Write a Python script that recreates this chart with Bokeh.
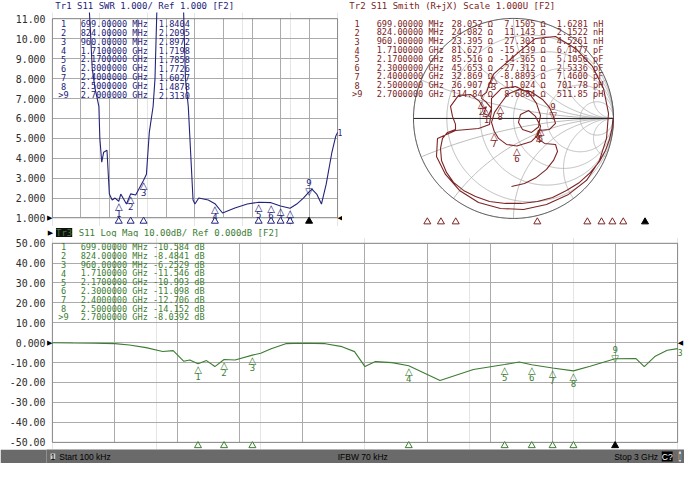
import numpy as np
from bokeh.plotting import figure
from bokeh.models import Range1d, FixedTicker, Label, Grid, BoxAnnotation
from bokeh.layouts import column, row
from bokeh.embed import file_html
from bokeh.resources import INLINE
from bokeh.core.properties import value

# ------------------------------------------------------------------ data
start_hz = 100e3
stop_hz = 3e9

swr_freq_ghz = [0.0001, 0.20, 0.36, 0.40, 0.42, 0.45, 0.49, 0.50, 0.52, 0.54, 0.575, 0.60, 0.63,
                0.66, 0.699, 0.72, 0.78, 0.824, 0.877, 0.96, 0.99, 1.02, 1.06, 1.08, 1.10, 1.20,
                1.30, 1.38, 1.40, 1.43, 1.48, 1.50, 1.54, 1.64, 1.71, 1.79, 1.92, 2.05, 2.17,
                2.30, 2.40, 2.50, 2.57, 2.64, 2.70, 2.73, 2.78, 2.83, 2.88, 2.94, 2.98, 3.00]
swr_values = [60.0, 40.0, 14.0, 10.5, 8.5, 7.5, 6.6, 5.0, 3.8, 4.3, 4.4, 2.2, 1.9,
              2.0, 1.84, 2.2, 1.7, 2.21, 2.15, 2.90, 3.2, 5.3, 6.6, 8.0, 11.5, 40.0,
              30.0, 11.5, 8.0, 6.6, 1.9, 1.7, 2.0, 1.9, 1.72, 1.25, 1.5, 1.7, 1.79,
              1.77, 1.60, 1.49, 1.7, 2.0, 2.31, 2.45, 2.2, 1.7, 2.7, 4.3, 5.1, 5.3]

logmag_freq_ghz = [0.0001, 0.10, 0.20, 0.30, 0.37, 0.45, 0.53, 0.58, 0.63, 0.66, 0.699, 0.74,
                   0.78, 0.824, 0.877, 0.96, 1.00, 1.05, 1.12, 1.20, 1.31, 1.39, 1.45, 1.50,
                   1.55, 1.63, 1.71, 1.86, 2.02, 2.17, 2.24, 2.30, 2.40, 2.50, 2.58, 2.70,
                   2.80, 2.84, 2.89, 2.95, 3.00]
logmag_db = [0.0, -0.2, -0.3, -0.5, -1.2, -2.5, -4.4, -4.0, -9.3, -8.7, -10.58, -9.0,
             -12.0, -8.48, -8.7, -6.25, -5.3, -3.0, -0.5, -0.3, -0.5, -2.0, -4.5, -12.0,
             -9.5, -10.0, -11.55, -19.0, -13.5, -10.99, -9.7, -11.1, -12.7, -14.15, -11.8, -8.04,
             -8.0, -12.0, -7.0, -3.8, -3.0]

smith_re = [0.995, 0.985, 0.96, 0.92, 0.86, 0.77, 0.66, 0.53, 0.39, 0.24, 0.08, -0.08, -0.24,
            -0.38, -0.50, -0.60, -0.67, -0.72, -0.73, -0.71, -0.66, -0.58, -0.58, -0.61, -0.63,
            -0.55, -0.43, -0.34, -0.30, -0.271, -0.30, -0.25, -0.22, -0.28, -0.32, -0.31, -0.27,
            -0.24, -0.197, -0.10, 0.05,
            0.22, 0.42, 0.62, 0.79, 0.90, 0.95, 0.93, 0.86, 0.73, 0.55, 0.33, 0.10, -0.13, -0.35,
            -0.54, -0.68, -0.77, -0.76, -0.58,
            -0.35, -0.24, -0.22, -0.22, -0.12, 0.02, 0.15, 0.23, 0.27, 0.25,
            0.18, 0.09, 0.05, 0.07, 0.15, 0.22, 0.27, 0.25, 0.18, 0.033, -0.07, -0.15, -0.193,
            -0.22, -0.19, -0.132, -0.06, 0.05, 0.17, 0.29, 0.36, 0.395,
            0.42, 0.36, 0.25, 0.23, 0.31, 0.42, 0.44, 0.40, 0.33, 0.23, 0.11, -0.02]
smith_im = [0.00, -0.10, -0.21, -0.32, -0.43, -0.54, -0.64, -0.72, -0.79, -0.83, -0.85, -0.85, -0.83,
            -0.78, -0.72, -0.64, -0.54, -0.42, -0.30, -0.20, -0.14, -0.11, -0.06, 0.02, 0.12,
            0.23, 0.24, 0.17, 0.10, 0.117, 0.05, 0.03, 0.10, 0.17, 0.20, 0.23, 0.26,
            0.35, 0.445, 0.53, 0.66,
            0.80, 0.82, 0.70, 0.52, 0.30, 0.05, -0.20, -0.42, -0.62, -0.76, -0.86, -0.91, -0.90, -0.84,
            -0.72, -0.56, -0.38, -0.20, -0.12,
            -0.10, -0.06, 0.08, 0.20, 0.30, 0.32, 0.26, 0.15, 0.03, -0.086,
            -0.14, -0.11, -0.04, 0.04, 0.08, 0.02, -0.077, -0.16, -0.23, -0.276, -0.26, -0.20, -0.128,
            -0.04, 0.06, 0.144, 0.24, 0.29, 0.27, 0.19, 0.11, 0.032,
            -0.05, -0.11, -0.12, -0.19, -0.25, -0.26, -0.33, -0.42, -0.51, -0.59, -0.65, -0.68]

marker_ids = ["1", "2", "3", "4", "5", "6", "7", "8", ">9"]
marker_nums = ["1", "2", "3", "4", "5", "6", "7", "8", "9"]
marker_freq_ghz = [0.699, 0.824, 0.960, 1.710, 2.170, 2.300, 2.400, 2.500, 2.700]
marker_freq_text = ["699.00000 MHz", "824.00000 MHz", "960.00000 MHz", "1.7100000 GHz",
                    "2.1700000 GHz", "2.3000000 GHz", "2.4000000 GHz", "2.5000000 GHz",
                    "2.7000000 GHz"]
marker_swr = [1.8404, 2.2095, 2.8972, 1.7198, 1.7858, 1.7726, 1.6027, 1.4878, 2.3130]
marker_swr_text = ["1.8404", "2.2095", "2.8972", "1.7198", "1.7858", "1.7726", "1.6027",
                   "1.4878", "2.3130"]
marker_db = [-10.584, -8.4841, -6.2529, -11.546, -10.993, -11.098, -12.706, -14.152, -8.0392]
marker_db_text = ["-10.584 dB", "-8.4841 dB", "-6.2529 dB", "-11.546 dB", "-10.993 dB",
                  "-11.098 dB", "-12.706 dB", "-14.152 dB", "-8.0392 dB"]
marker_r = [28.052, 24.082, 23.395, 81.627, 85.516, 45.653, 32.869, 36.907, 114.84]
marker_x = [7.1505, 11.143, 27.301, -15.139, -14.365, -27.312, -8.8893, 11.024, 8.6884]
marker_r_text = ["28.052 Ω", "24.082 Ω", "23.395 Ω", "81.627 Ω", "85.516 Ω", "45.653 Ω",
                 "32.869 Ω", "36.907 Ω", "114.84 Ω"]
marker_x_text = ["7.1505 Ω", "11.143 Ω", "27.301 Ω", "-15.139 Ω", "-14.365 Ω", "-27.312 Ω",
                 "-8.8893 Ω", "11.024 Ω", "8.6884 Ω"]
marker_lc_text = ["1.6281 nH", "2.1522 nH", "4.5261 nH", "6.1477 pF", "5.1056 pF", "2.5336 pF",
                  "7.4600 pF", "701.78 pH", "511.85 pH"]

swr_ticks = [1, 2, 3, 4, 5, 6, 7, 8, 9, 10, 11]
swr_tick_labels = ["1.000", "2.000", "3.000", "4.000", "5.000", "6.000", "7.000", "8.000",
                   "9.000", "10.00", "11.00"]
db_ticks = [-50, -40, -30, -20, -10, 0, 10, 20, 30, 40, 50]
db_tick_labels = ["-50.00", "-40.00", "-30.00", "-20.00", "-10.00", "0.000", "10.00", "20.00",
                  "30.00", "40.00", "50.00"]
freq_divisions = 10
smith_r_values = [0.2, 0.5, 1.0, 2.0, 5.0]
smith_x_values = [0.2, 0.5, 1.0, 2.0, 5.0]

# ------------------------------------------------------------------ style / geometry
SX = 684 / 700
SY = 463 / 479
SWR_C = "#23237a"
SMITH_C = "#7d2424"
LOG_C = "#3c7d32"
GRID_C = "#ababab"
FRAME_C = "#3a3a3a"
TICK_C = "#2c2c2c"
MONO = "DejaVu Sans Mono"
SANS = "DejaVu Sans"
TBL = 8.6

W_TOP_L = int(round(350 * SX))          # 342
W_TOP_R = 684 - W_TOP_L
H_HEAD_A = 12
TOP_BOTTOM = 226
C_TOP = int(round(245 * SY))            # 237
C_BOTTOM = int(round(465 * SY))         # 449
AXIS_W = int(round(47 * SX))            # 46


def make_fig(w, h, xr, yr, bl=0, br=0, bt=0, bb=0, **kw):
    p = figure(width=w, height=h, x_range=xr, y_range=yr, output_backend="svg",
               toolbar_location=None, min_border_left=bl, min_border_right=br,
               min_border_top=bt, min_border_bottom=bb, **kw)
    p.background_fill_color = "white"
    p.border_fill_color = "white"
    p.outline_line_color = None
    return p


def put(p, origin, text, rx, ry, color, size, font=MONO, align="left", baseline="middle", **kw):
    """Label placed at reference-pixel position (rx, ry); origin = page px of frame top-left."""
    ox, oy = origin
    p.add_layout(Label(x=p.x_range.start, y=p.y_range.end, x_offset=rx * SX - ox,
                       y_offset=-(ry * SY - oy), text=text, text_color=color,
                       text_font_size=f"{size}px", text_font=font, text_align=align,
                       text_baseline=baseline, **kw))


def cartesian_panel(w, top, bottom, box_ref, y_lo, y_hi):
    """Figure whose frame spans [AXIS_W, w] x [top, bottom] page px; data box at box_ref."""
    rl, rt, rr, rb = box_ref
    bx0, bx1, by0, by1 = rl * SX, rr * SX, rt * SY, rb * SY
    ppx = (bx1 - bx0) / (stop_hz - start_hz)
    ppu = (by1 - by0) / (y_hi - y_lo)
    xr = Range1d(start_hz - (bx0 - AXIS_W) / ppx, stop_hz + (w - bx1) / ppx)
    yr = Range1d(y_lo - (bottom - by1) / ppu, y_hi + (by0 - top) / ppu)
    p = make_fig(w, bottom - top, xr, yr, bl=AXIS_W, x_axis_location=None)
    return p, ppu


def style_panel(p, ticks, labels, y_lo, y_hi):
    ax = p.yaxis[0]
    ax.ticker = FixedTicker(ticks=ticks)
    ax.major_label_overrides = {t: l for t, l in zip(ticks, labels)}
    ax.axis_line_color = None
    ax.major_tick_line_color = None
    ax.minor_tick_line_color = None
    ax.major_tick_out = 0
    ax.major_tick_in = 0
    ax.major_label_standoff = 1
    ax.major_label_text_font = MONO
    ax.major_label_text_font_size = "9.9px"
    ax.major_label_text_color = TICK_C
    p.ygrid.visible = False
    fticks = [start_hz + k * (stop_hz - start_hz) / freq_divisions for k in range(freq_divisions + 1)]
    if "cross_bounds" in Grid.properties():
        p.add_layout(Grid(dimension=0, ticker=FixedTicker(ticks=fticks), grid_line_color=GRID_C,
                          cross_bounds=(y_lo, y_hi)))
        p.add_layout(Grid(dimension=1, ticker=FixedTicker(ticks=ticks), grid_line_color=GRID_C,
                          cross_bounds=(start_hz, stop_hz)))
    else:
        p.segment(x0=fticks, y0=[y_lo] * len(fticks), x1=fticks, y1=[y_hi] * len(fticks),
                  line_color=GRID_C, line_width=1)
        p.segment(x0=[start_hz] * len(ticks), y0=ticks, x1=[stop_hz] * len(ticks), y1=ticks,
                  line_color=GRID_C, line_width=1)
    p.add_layout(BoxAnnotation(left=start_hz, right=stop_hz, bottom=y_lo, top=y_hi,
                               fill_alpha=0, fill_color=None, line_color=FRAME_C, line_width=1,
                               level="underlay"))


def trace_markers(p, xs, ys, color, **kw):
    idx = list(range(8))
    p.text(x=[xs[i] for i in idx], y=[ys[i] for i in idx], text=["△"] * 8, text_align="center",
           text_baseline="top", text_font_size="10px", text_font=value(SANS), text_color=color,
           y_offset=0, **kw)
    p.text(x=[xs[i] for i in idx], y=[ys[i] for i in idx], text=[marker_nums[i] for i in idx],
           text_align="center", text_baseline="top", text_font_size="9px",
           text_font=value(MONO), text_color=color, y_offset=9, **kw)
    p.text(x=[xs[8]], y=[ys[8]], text=["▽"], text_align="center", text_baseline="alphabetic",
           text_font_size="10px", text_font=value(SANS), text_color=color, y_offset=0, **kw)
    p.text(x=[xs[8]], y=[ys[8]], text=[marker_nums[8]], text_align="center",
           text_baseline="alphabetic", text_font_size="9px", text_font=value(MONO),
           text_color=color, y_offset=-9, **kw)


def strip_markers(p, color, y, x_range_name="default"):
    xs = [f * 1e9 for f in marker_freq_ghz]
    p.scatter(xs[:8], [y] * 8, marker="triangle", size=7, fill_color="white", line_color=color,
              line_width=1, x_range_name=x_range_name)
    p.scatter(xs[8:], [y], marker="triangle", size=7, fill_color="#000000", line_color="#000000",
              line_width=1, x_range_name=x_range_name)


# ------------------------------------------------------------------ header A
hA = make_fig(W_TOP_L, H_HEAD_A, Range1d(0, 1), Range1d(0, 1),
              x_axis_location=None, y_axis_location=None)
hA.xgrid.visible = False
hA.ygrid.visible = False
put(hA, (0, 0), "Tr1 S11 SWR 1.000/ Ref 1.000 [F2]", 9, 6, SWR_C, 9)

# ------------------------------------------------------------------ panel A : SWR
OA = (AXIS_W, H_HEAD_A)
pA, ppuA = cartesian_panel(W_TOP_L, H_HEAD_A, TOP_BOTTOM, (53, 19, 345, 225), 1, 11)
style_panel(pA, swr_ticks, swr_tick_labels, 1, 11)
pA.line([f * 1e9 for f in swr_freq_ghz], swr_values, line_color=SWR_C, line_width=1.1)
trace_markers(pA, [f * 1e9 for f in marker_freq_ghz], marker_swr, SWR_C)
strip_markers(pA, SWR_C, 1 - 3.2 / ppuA)
put(pA, OA, "▶", 53, 225, "#000000", 7, font=SANS, align="right")
put(pA, OA, "◀", 345, 225, "#000000", 7, font=SANS, align="left")
pA.add_layout(Label(x=stop_hz, y=swr_values[-1], text="1", text_color=SWR_C, text_font_size="8px",
                    text_font=MONO, text_align="left", text_baseline="middle", x_offset=0))
for i in range(9):
    ry = 24 + 9.25 * i
    put(pA, OA, marker_ids[i], 64.5, ry, SWR_C, TBL, align="center")
    put(pA, OA, marker_freq_text[i], 82, ry, SWR_C, TBL)
    put(pA, OA, marker_swr_text[i], 162, ry, SWR_C, TBL)

# ------------------------------------------------------------------ panel B : Smith
OB = (W_TOP_L, 0)
cx_px, cy_px, R = 525 * SX - W_TOP_L, 122 * SY, 100.0
pB = make_fig(W_TOP_R, TOP_BOTTOM, Range1d(-cx_px / R, (W_TOP_R - cx_px) / R),
              Range1d(-(TOP_BOTTOM - cy_px) / R, cy_px / R),
              x_axis_location=None, y_axis_location=None)
pB.xgrid.visible = False
pB.ygrid.visible = False
s0, s1 = 359 * SX - W_TOP_L, 693 * SX - W_TOP_L
ppx_b = (s1 - s0) / (stop_hz - start_hz)
pB.extra_x_ranges = {"freq": Range1d(start_hz - s0 / ppx_b, stop_hz + (W_TOP_R - s1) / ppx_b)}

t = np.linspace(0, 2 * np.pi, 721)
for r in smith_r_values:
    c, rad = r / (1 + r), 1 / (1 + r)
    pB.line(c + rad * np.cos(t), rad * np.sin(t), line_color=GRID_C, line_width=0.8)
for xv in smith_x_values:
    for s in (1, -1):
        cx, cy, rad = 1.0, s / xv, 1 / xv
        gx, gy = cx + rad * np.cos(t), cy + rad * np.sin(t)
        inside = gx ** 2 + gy ** 2 <= 1.0 + 1e-9
        pB.line(np.where(inside, gx, np.nan), np.where(inside, gy, np.nan),
                line_color=GRID_C, line_width=0.8)
pB.line(np.cos(t), np.sin(t), line_color="#404040", line_width=1)
pB.line([-1, 1], [0, 0], line_color="#202020", line_width=1)

pB.line(smith_re, smith_im, line_color=SMITH_C, line_width=1.1)
z = (np.array(marker_r) + 1j * np.array(marker_x)) / 50.0
gam = (z - 1) / (z + 1)
trace_markers(pB, list(gam.real), list(gam.imag), SMITH_C)
strip_markers(pB, SMITH_C, pB.y_range.start + (TOP_BOTTOM - 229 * SY) / R, x_range_name="freq")
put(pB, OB, "Tr2 S11 Smith (R+jX) Scale 1.000U [F2]", 357, 6, SMITH_C, 9)
for i in range(9):
    ry = 24 + 9.1 * i
    put(pB, OB, marker_ids[i], 365, ry, SMITH_C, TBL, align="center")
    put(pB, OB, marker_freq_text[i], 385, ry, SMITH_C, TBL)
    put(pB, OB, marker_r_text[i], 504, ry, SMITH_C, TBL, align="right")
    put(pB, OB, marker_x_text[i], 558, ry, SMITH_C, TBL, align="right")
    put(pB, OB, marker_lc_text[i], 617, ry, SMITH_C, TBL, align="right")

# ------------------------------------------------------------------ header C
hC = make_fig(684, C_TOP - TOP_BOTTOM, Range1d(0, 1), Range1d(0, 1),
              x_axis_location=None, y_axis_location=None)
hC.xgrid.visible = False
hC.ygrid.visible = False
OH = (0, TOP_BOTTOM)
HY = (TOP_BOTTOM + 5.5) / SY
put(hC, OH, "▶", 4, HY, "#000000", 7, font=SANS, align="center")
put(hC, OH, "Tr3", 18, HY, LOG_C, 9, align="center", background_fill_color="#111111")
put(hC, OH, "S11 Log Mag 10.00dB/ Ref 0.000dB [F2]", 33, HY, LOG_C, 9)

# ------------------------------------------------------------------ panel C : Log Mag
OC = (AXIS_W, C_TOP)
pC, ppuC = cartesian_panel(684, C_TOP, C_BOTTOM, (53, 251, 693, 457), -50, 50)
style_panel(pC, db_ticks, db_tick_labels, -50, 50)
pC.line([f * 1e9 for f in logmag_freq_ghz], logmag_db, line_color=LOG_C, line_width=1.1)
trace_markers(pC, [f * 1e9 for f in marker_freq_ghz], marker_db, LOG_C)
strip_markers(pC, LOG_C, -50 - 3.4 / ppuC)
put(pC, OC, "▶", 53, 354, "#000000", 7, font=SANS, align="right")
put(pC, OC, "◀", 693, 354, "#000000", 7, font=SANS, align="left")
pC.add_layout(Label(x=stop_hz, y=logmag_db[-1], text="3", text_color=LOG_C, text_font_size="8px",
                    text_font=MONO, text_align="left", text_baseline="top", x_offset=0))
for i in range(9):
    ry = 255 + 9.1 * i
    put(pC, OC, marker_ids[i], 64.5, ry, LOG_C, TBL, align="center")
    put(pC, OC, marker_freq_text[i], 82, ry, LOG_C, TBL)
    put(pC, OC, marker_db_text[i], 156, ry, LOG_C, TBL)

# ------------------------------------------------------------------ status bar
HS = 463 - C_BOTTOM
pS = make_fig(684, HS, Range1d(0, 700), Range1d(0, 1), x_axis_location=None, y_axis_location=None)
pS.xgrid.visible = False
pS.ygrid.visible = False
pS.background_fill_color = "#6a6a6a"
pS.border_fill_color = "#6a6a6a"
for txt, x0, al, kw in [("1", 7, "center", dict(background_fill_color="#cfcfcf")),
                        ("Start 100 kHz", 14, "left", {}),
                        ("IFBW 70 kHz", 347, "center", {}),
                        ("Stop 3 GHz", 671, "right", {}),
                        ("C?", 681, "center", dict(background_fill_color="#000000")),
                        ("I", 695, "center", dict(background_fill_color="#cfcfcf"))]:
    pS.add_layout(Label(x=x0, y=0.5, text=txt, text_align=al, text_baseline="middle",
                        text_font="Liberation Sans", text_font_size="8.5px",
                        text_color="#ffffff" if txt == "C?" else "#000000", **kw))

layout = column(row(column(hA, pA), pB), hC, pC, pS)
open("out.html", "w").write(file_html(layout, INLINE))
